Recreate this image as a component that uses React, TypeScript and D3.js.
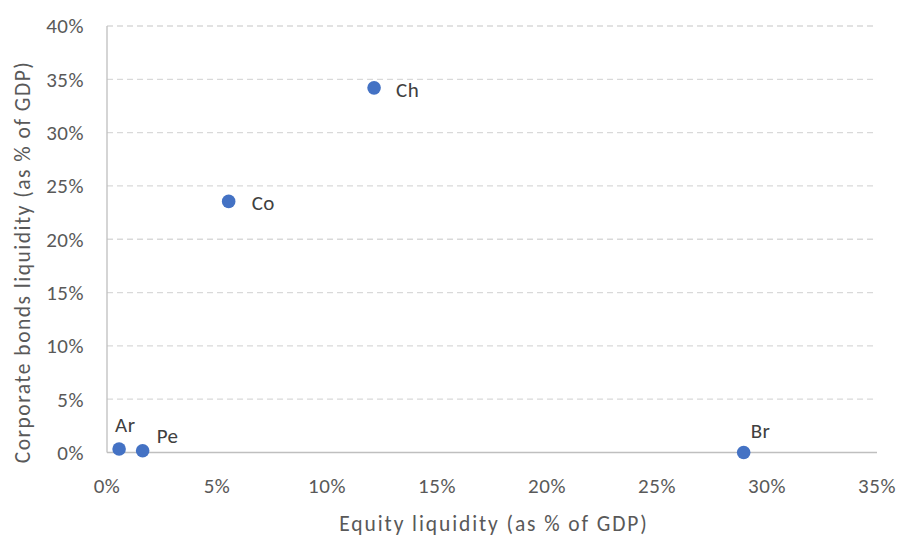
import React, { useEffect, useRef } from 'react';
import * as d3 from 'd3';

const countries = ['Ar', 'Pe', 'Br', 'Ch', 'Co'];
const equityLiquidity = [0.55, 1.62, 28.94, 12.14, 5.53];
const bondLiquidity = [0.33, 0.17, 0.0, 34.2, 23.55];
const xTicks = [0, 5, 10, 15, 20, 25, 30, 35];
const yTicks = [0, 5, 10, 15, 20, 25, 30, 35, 40];

// label offset from the point: [dx, dy]
const labelPos: Record<string, [number, number]> = {
  Ar: [-4, -24],
  Pe: [14, -15],
  Br: [7, -22],
  Ch: [22, 1.5],
  Co: [23, 1],
};

const App = () => {
  const chart = useRef<SVGSVGElement>(null);

  useEffect(() => {
    const width = 902;
    const height = 538;
    const margin = { top: 26, right: 25, bottom: 85.5, left: 107 };
    const font = 'Calibri, Carlito, "Open Sans", sans-serif';

    const svg = d3.select(chart.current);
    svg.selectAll('*').remove();

    const xScale = d3
      .scaleLinear()
      .domain([0, 35])
      .range([margin.left, width - margin.right]);

    const yScale = d3
      .scaleLinear()
      .domain([0, 40])
      .range([height - margin.bottom, margin.top]);

    // gridlines
    svg
      .append('g')
      .selectAll('line')
      .data(yTicks.filter((t) => t > 0))
      .join('line')
      .attr('x1', xScale(0))
      .attr('x2', xScale(35))
      .attr('y1', (d) => yScale(d))
      .attr('y2', (d) => yScale(d))
      .attr('stroke', '#d9d9d9')
      .attr('stroke-width', 1.3)
      .attr('stroke-dasharray', '6,4');

    // axis lines
    svg
      .append('line')
      .attr('x1', xScale(0))
      .attr('x2', xScale(35))
      .attr('y1', yScale(0))
      .attr('y2', yScale(0))
      .attr('stroke', '#bfbfbf')
      .attr('stroke-width', 1.3);
    svg
      .append('line')
      .attr('x1', xScale(0))
      .attr('x2', xScale(0))
      .attr('y1', yScale(0))
      .attr('y2', yScale(40))
      .attr('stroke', '#bfbfbf')
      .attr('stroke-width', 1.3);

    // tick labels
    svg
      .append('g')
      .selectAll('text')
      .data(yTicks)
      .join('text')
      .attr('x', xScale(0) - 23)
      .attr('y', (d) => yScale(d))
      .attr('dy', '0.35em')
      .attr('text-anchor', 'end')
      .attr('font-family', font)
      .attr('font-size', 21)
      .attr('letter-spacing', 0.5)
      .attr('fill', '#595959')
      .text((d) => `${d}%`);

    svg
      .append('g')
      .selectAll('text')
      .data(xTicks)
      .join('text')
      .attr('x', (d) => xScale(d))
      .attr('y', yScale(0) + 33)
      .attr('dy', '0.35em')
      .attr('text-anchor', 'middle')
      .attr('font-family', font)
      .attr('font-size', 21)
      .attr('letter-spacing', 0.5)
      .attr('fill', '#595959')
      .text((d) => `${d}%`);

    // axis titles
    svg
      .append('text')
      .attr('x', 494)
      .attr('y', 523)
      .attr('dy', '0.35em')
      .attr('text-anchor', 'middle')
      .attr('font-family', font)
      .attr('font-size', 21.5)
      .attr('letter-spacing', 1.9)
      .attr('fill', '#595959')
      .text('Equity liquidity (as % of GDP)');

    svg
      .append('text')
      .attr('transform', 'translate(22,262) rotate(-90)')
      .attr('dy', '0.35em')
      .attr('text-anchor', 'middle')
      .attr('font-family', font)
      .attr('font-size', 21.5)
      .attr('letter-spacing', 1.5)
      .attr('fill', '#595959')
      .text('Corporate bonds liquidity (as % of GDP)');

    const points = countries.map((c, i) => ({
      name: c,
      x: equityLiquidity[i],
      y: bondLiquidity[i],
    }));

    svg
      .append('g')
      .selectAll('circle')
      .data(points)
      .join('circle')
      .attr('cx', (d) => xScale(d.x))
      .attr('cy', (d) => yScale(d.y))
      .attr('r', 6.8)
      .attr('fill', '#4472c4');

    svg
      .append('g')
      .selectAll('text')
      .data(points)
      .join('text')
      .attr('x', (d) => xScale(d.x) + labelPos[d.name][0])
      .attr('y', (d) => yScale(d.y) + labelPos[d.name][1])
      .attr('dy', '0.35em')
      .attr('text-anchor', 'start')
      .attr('font-family', font)
      .attr('font-size', 21)
      .attr('letter-spacing', 0.4)
      .attr('fill', '#404040')
      .text((d) => d.name);
  }, []);

  return (
    <svg
      ref={chart}
      width={902}
      height={538}
      style={{ position: 'absolute', left: 0, top: 0, background: '#fff' }}
    />
  );
};

export default App;
